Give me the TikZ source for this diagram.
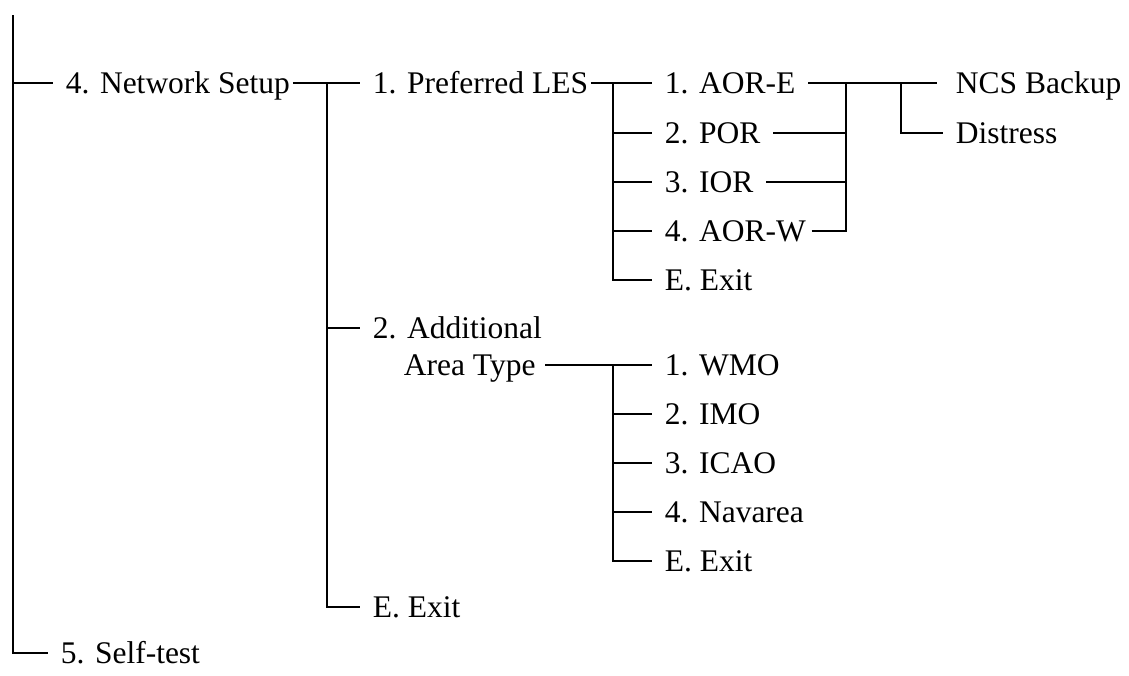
\documentclass[tikz,border=0pt]{standalone}
\usepackage{fontspec}
\setmainfont{Liberation Serif}
\begin{document}
\begin{tikzpicture}[x=1pt, y=-1pt, line width=1.8pt,
  item/.style={anchor=west, inner xsep=12pt, inner ysep=2pt, text height=21pt, text depth=0pt,
    font=\fontsize{31.5}{36}\selectfont}]
  \useasboundingbox (0,0) rectangle (1129,675);
  \node[item] (ns) at (53,83) {4. Network Setup};
  \node[item] (self) at (48,653) {5. Self-test};
  \node[item] (pref) at (360,83) {1. Preferred LES};
  \node[item] (add1) at (360,328) {2. Additional};
  \node[item] (add2) at (391,365) {Area Type};
  \node[item] (nsexit) at (360,607) {E. Exit};
  \foreach \n/\t/\y in {aore/1. AOR-E/83, por/2. POR/133, ior/3. IOR/182, aorw/4. AOR-W/231, prefexit/E. Exit/280}
    \node[item] (\n) at (652,\y) {\t};
  \foreach \n/\t/\y in {wmo/1. WMO/365, imo/2. IMO/414, icao/3. ICAO/463, nav/4. Navarea/512, areaexit/E. Exit/561}
    \node[item] (\n) at (652,\y) {\t};
  \node[item] (ncs) at (943,83) {NCS Backup};
  \node[item] (dis) at (943,133) {Distress};
  \coordinate (jR) at (13,15);
  \coordinate (jA) at (327,83);
  \coordinate (jB) at (613,83);
  \coordinate (jC) at (613,365);
  \coordinate (jD) at (846,83);
  \coordinate (jE) at (901,83);
  \draw (jR) |- (self.west);
  \draw (ns.west -| jR) -- (ns.west);
  \draw[shorten <=-10pt] (ns.east) -- (pref.west);
  \draw (jA) |- (nsexit.west);
  \draw (add1.west -| jA) -- (add1.west);
  \draw[shorten <=-10pt] (pref.east) -- (aore.west);
  \draw (jB) |- (prefexit.west);
  \foreach \n in {por,ior,aorw}
    \draw (\n.west -| jB) -- (\n.west);
  \draw[shorten >=6pt] (aore.east) -- (ncs.west);
  \draw[shorten <=-7pt] (aorw.east) -| (jD);
  \foreach \n in {por,ior}
    \draw (\n.east) -- (\n.east -| jD);
  \draw (jE) |- (dis.west);
  \draw[shorten <=-3pt] (add2.east) -- (wmo.west);
  \draw (jC) |- (areaexit.west);
  \foreach \n in {imo,icao,nav}
    \draw (\n.west -| jC) -- (\n.west);
\end{tikzpicture}
\end{document}
